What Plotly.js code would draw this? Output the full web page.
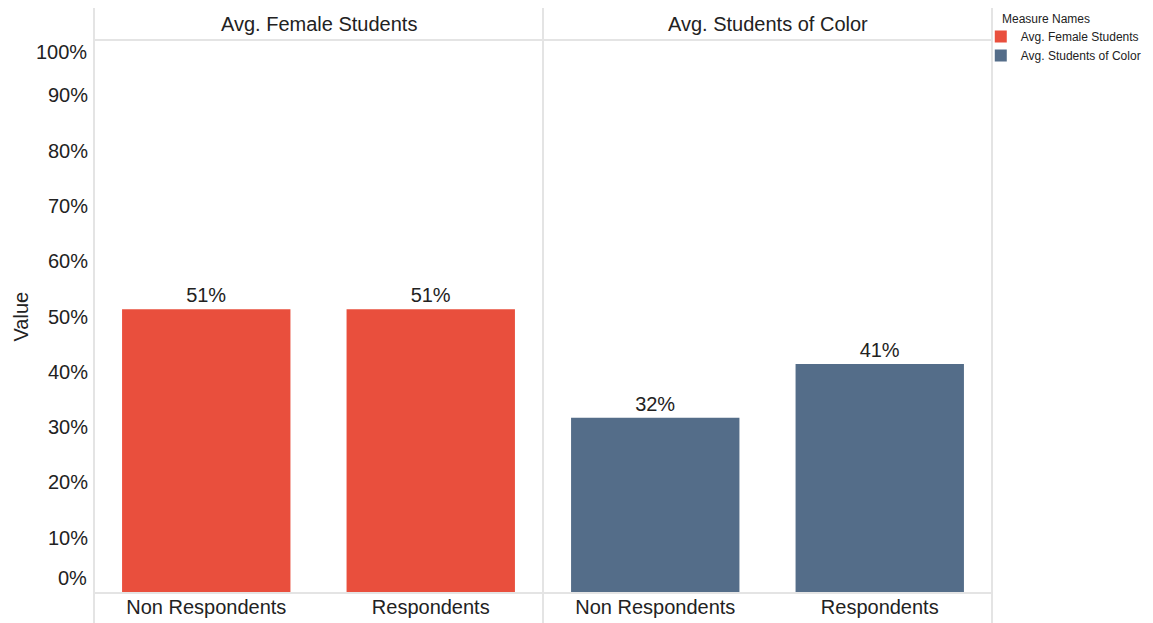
<!DOCTYPE html>
<html>
<head>
<meta charset="utf-8">
<script src="https://cdn.plot.ly/plotly-3.0.1.min.js"></script>
<style>html,body{margin:0;padding:0;background:#fff;}#chart{width:1153px;height:623px;}</style>
</head>
<body>
<div id="chart"></div>
<script>
// ---- data ----
const categories = ['Non Respondents', 'Respondents'];
const femaleValues = [0.513, 0.513];
const colorValues = [0.317, 0.414];
const panelTitles = ['Avg. Female Students', 'Avg. Students of Color'];
const seriesNames = ['Avg. Female Students', 'Avg. Students of Color'];
const innerTickVals = [0.1, 0.2, 0.3, 0.4, 0.5, 0.6, 0.7, 0.8, 0.9];
const innerTickText = ['10%', '20%', '30%', '40%', '50%', '60%', '70%', '80%', '90%'];
const edgeTickVals = [0, 1];
const edgeTickText = ['0%', '100%'];
const legendTitle = 'Measure Names';
const yTitle = 'Value';

// ---- style ----
const FONT = 'Liberation Sans, Arial, sans-serif';
const TXT = '#222';
const LINE = '#e4e4e4';
const colors = ['#E94F3D', '#546D89'];
const Y_MAX = 1.0;

const traces = [
  {type: 'bar', x: categories, y: femaleValues, name: seriesNames[0], xaxis: 'x', yaxis: 'y',
   marker: {color: colors[0], line: {width: 0}},
   texttemplate: '%{y:.0%}', textposition: 'outside', cliponaxis: false,
   textfont: {family: FONT, size: 20, color: TXT}, hoverinfo: 'x+y'},
  {type: 'bar', x: categories, y: colorValues, name: seriesNames[1], xaxis: 'x2', yaxis: 'y',
   marker: {color: colors[1], line: {width: 0}},
   texttemplate: '%{y:.0%}', textposition: 'outside', cliponaxis: false,
   textfont: {family: FONT, size: 20, color: TXT}, hoverinfo: 'x+y'}
];

const xBase = {showgrid: false, zeroline: false, showline: false, ticks: '',
  tickfont: {family: FONT, size: 20, color: TXT}, fixedrange: true};

const vLines = [0, 0.5, 1].map(x => ({type: 'line', xref: 'paper', yref: 'paper',
  x0: x, x1: x, y0: -0.06, y1: 1.058, line: {color: LINE, width: 2}}));
const hLines = [0, 1].map(y => ({type: 'line', xref: 'paper', yref: 'paper',
  x0: 0, x1: 1, y0: y, y1: y, line: {color: LINE, width: 2}}));

const annotations = [];
panelTitles.forEach((t, i) => annotations.push({
  text: t, xref: i === 0 ? 'x domain' : 'x2 domain', yref: 'paper', x: 0.5, y: 1,
  yshift: 16, yanchor: 'middle', xanchor: 'center', showarrow: false,
  font: {family: FONT, size: 20, color: TXT}}));
edgeTickVals.forEach((v, i) => annotations.push({
  text: edgeTickText[i], xref: 'paper', yref: 'paper', x: 0, y: v / Y_MAX, xanchor: 'right', yanchor: 'middle',
  xshift: -5, yshift: i === 0 ? 15 : -12, showarrow: false,
  font: {family: FONT, size: 20, color: TXT}}));
annotations.push({text: yTitle, xref: 'paper', yref: 'paper', x: 0, y: 0.5, xshift: -74,
  textangle: -90, showarrow: false, xanchor: 'center', yanchor: 'middle',
  font: {family: FONT, size: 20, color: TXT}});
annotations.push({text: legendTitle, xref: 'paper', yref: 'paper', x: 1.009, y: 1, yshift: 21,
  xanchor: 'left', yanchor: 'middle', showarrow: false,
  font: {family: FONT, size: 12, color: TXT}});

const layout = {
  width: 1153, height: 623,
  margin: {l: 94, r: 161, t: 40, b: 30, pad: 0, autoexpand: false},
  paper_bgcolor: '#fff', plot_bgcolor: '#fff',
  bargap: 0.25,
  showlegend: true,
  legend: {x: 0.9875, y: 1.0325, xref: 'paper', yref: 'paper', xanchor: 'left', yanchor: 'top',
    font: {family: FONT, size: 12, color: TXT}, itemwidth: 30, tracegroupgap: 0,
    bgcolor: 'rgba(0,0,0,0)', borderwidth: 0},
  xaxis: Object.assign({}, xBase, {domain: [0, 0.5], anchor: 'y'}),
  xaxis2: Object.assign({}, xBase, {domain: [0.5, 1], anchor: 'y'}),
  yaxis: {range: [0, Y_MAX], showgrid: false, zeroline: false, showline: false, ticks: '',
    tickvals: innerTickVals, ticktext: innerTickText, ticklabelstandoff: 5,
    tickfont: {family: FONT, size: 20, color: TXT}, fixedrange: true},
  shapes: vLines.concat(hLines),
  annotations: annotations,
  font: {family: FONT, color: TXT}
};

Plotly.newPlot('chart', traces, layout, {displayModeBar: false, staticPlot: true});
</script>
</body>
</html>
